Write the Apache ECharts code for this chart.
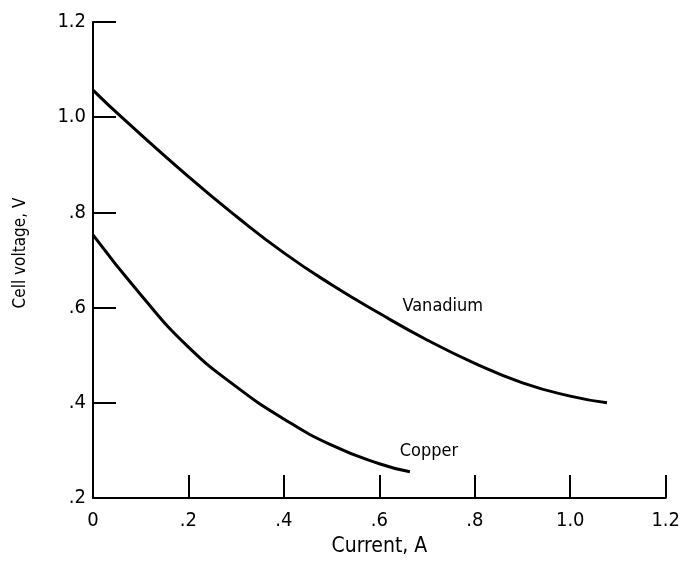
<!DOCTYPE html>
<html>
<head>
<meta charset="utf-8">
<script src="https://cdn.jsdelivr.net/npm/echarts@6/dist/echarts.min.js"></script>
<style>
  html, body { margin: 0; padding: 0; background: #fff; }
  #chart { width: 683px; height: 563px; }
</style>
</head>
<body>
<div id="chart"></div>
<script>
// curves
var vanadiumX = [0, 0.06, 0.2, 0.3, 0.4, 0.5, 0.6, 0.7, 0.8, 0.9, 1.0, 1.077];
var vanadiumY = [1.057, 1.0, 0.875, 0.792, 0.715, 0.648, 0.588, 0.532, 0.483, 0.442, 0.414, 0.4];
var copperX = [0, 0.1, 0.2, 0.3, 0.4, 0.5, 0.6, 0.664];
var copperY = [0.753, 0.627, 0.517, 0.434, 0.366, 0.311, 0.272, 0.255];

// curve labels
var labelNames = ['Vanadium', 'Copper'];
var labelX = [0.733, 0.704];
var labelY = [0.603, 0.297];

var xTickLabels = ['0', '.2', '.4', '.6', '.8', '1.0', '1.2'];
var yTickLabels = ['.2', '.4', '.6', '.8', '1.0', '1.2'];

var font = "'DejaVu Sans Condensed', 'Liberation Sans Narrow', sans-serif";

function zip(xs, ys) {
    var out = [];
    for (var i = 0; i < xs.length; i++) out.push([xs[i], ys[i]]);
    return out;
}

var labelData = [];
for (var i = 0; i < labelNames.length; i++) {
    labelData.push({ name: labelNames[i], value: [labelX[i], labelY[i]] });
}

var chart = echarts.init(document.getElementById('chart'));
chart.setOption({
    animation: false,
    backgroundColor: '#fff',
    grid: { left: 93, top: 22, right: 17, bottom: 65 },
    xAxis: {
        type: 'value',
        min: 0, max: 1.2, interval: 0.2,
        name: 'Current, A',
        nameLocation: 'middle',
        nameGap: 38,
        nameTextStyle: { fontFamily: font, fontSize: 21, color: '#000' },
        axisLine: { lineStyle: { color: '#000', width: 2 } },
        axisTick: { inside: true, length: 23, lineStyle: { color: '#000', width: 2 } },
        splitLine: { show: false },
        axisLabel: {
            margin: 13,
            fontFamily: font, fontSize: 20, color: '#000',
            formatter: function (v) { return xTickLabels[Math.round(v / 0.2)]; }
        }
    },
    yAxis: {
        type: 'value',
        min: 0.2, max: 1.2, interval: 0.2,
        name: 'Cell voltage, V',
        nameLocation: 'middle',
        nameGap: 64,
        nameTextStyle: { fontFamily: font, fontSize: 17, color: '#000', padding: [0, 0, 0, 14] },
        axisLine: { lineStyle: { color: '#000', width: 2 } },
        axisTick: { inside: true, length: 23, lineStyle: { color: '#000', width: 2 } },
        splitLine: { show: false },
        axisLabel: {
            margin: 7,
            fontFamily: font, fontSize: 20, color: '#000',
            formatter: function (v) { return yTickLabels[Math.round((v - 0.2) / 0.2)]; }
        }
    },
    series: [
        {
            name: 'Vanadium',
            type: 'line',
            data: zip(vanadiumX, vanadiumY),
            smooth: 0.5,
            showSymbol: false,
            lineStyle: { color: '#000', width: 3 }
        },
        {
            name: 'Copper',
            type: 'line',
            data: zip(copperX, copperY),
            smooth: 0.5,
            showSymbol: false,
            lineStyle: { color: '#000', width: 3 }
        },
        {
            type: 'scatter',
            data: labelData,
            symbolSize: 0,
            itemStyle: { opacity: 1 },
            label: {
                show: true,
                position: 'inside',
                formatter: '{b}',
                fontFamily: font, fontSize: 18, color: '#000'
            }
        }
    ]
});
</script>
</body>
</html>
